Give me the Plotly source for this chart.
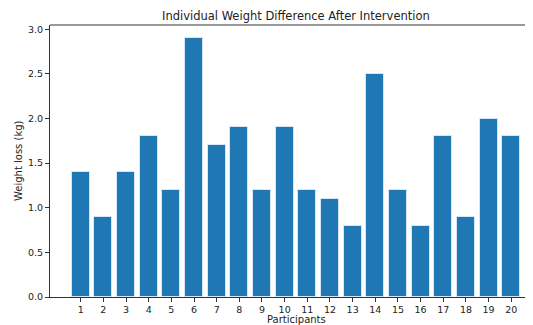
import plotly.graph_objects as go

participants = list(range(1, 21))
weight_loss = [1.4, 0.9, 1.4, 1.8, 1.2, 2.9, 1.7, 1.9, 1.2, 1.9,
               1.2, 1.1, 0.8, 2.5, 1.2, 0.8, 1.8, 0.9, 2.0, 1.8]
y_ticks = [0.0, 0.5, 1.0, 1.5, 2.0, 2.5, 3.0]
y_tick_labels = ["0.0", "0.5", "1.0", "1.5", "2.0", "2.5", "3.0"]

fig = go.Figure(go.Bar(
    x=participants, y=weight_loss, width=0.8,
    marker=dict(color="#1f77b4", line=dict(color="rgba(220,235,250,0.9)", width=1)),
))

# the page body has an 8px margin; compensate so the plot sits where the reference does
font = "DejaVu Sans, sans-serif"
fig.update_layout(
    width=525, height=317,
    margin=dict(l=42, r=0, t=17, b=28, autoexpand=False),
    plot_bgcolor="white", paper_bgcolor="white",
    showlegend=False,
    font=dict(family=font, size=10, color="#222"),
    bargap=0,
)
fig.update_xaxes(
    range=[-0.355, 20.96], tickvals=participants, ticktext=[str(p) for p in participants],
    showgrid=False, zeroline=False, showline=True, linecolor="#333", linewidth=1,
    ticks="outside", ticklen=4, tickcolor="#333", automargin=False,
    tickfont=dict(size=9.5),
)
fig.update_yaxes(
    range=[0, 3.048], tickvals=y_ticks, ticktext=y_tick_labels,
    showgrid=False, zeroline=False, showline=True, linecolor="#333", linewidth=1,
    ticks="outside", ticklen=4, tickcolor="#333", automargin=False,
    tickfont=dict(size=9.5),
)
# top spine
fig.add_shape(type="line", xref="paper", yref="paper", x0=0, x1=1, y0=1, y1=1,
              line=dict(color="#333", width=1))
# titles
fig.add_annotation(text="Individual Weight Difference After Intervention",
                   xref="paper", yref="paper", x=(296 - 50) / 483, y=1 + 9 / 272,
                   xanchor="center", yanchor="middle", showarrow=False,
                   font=dict(size=11.5, color="#222"))
fig.add_annotation(text="Participants",
                   xref="paper", yref="paper", x=(296 - 50) / 483, y=-22 / 272,
                   xanchor="center", yanchor="middle", showarrow=False,
                   font=dict(size=10, color="#222"))
fig.add_annotation(text="Weight loss (kg)", textangle=-90,
                   xref="paper", yref="paper", x=-32 / 483, y=0.5,
                   xanchor="center", yanchor="middle", showarrow=False,
                   font=dict(size=10, color="#222"))

fig.write_html("out.html")
